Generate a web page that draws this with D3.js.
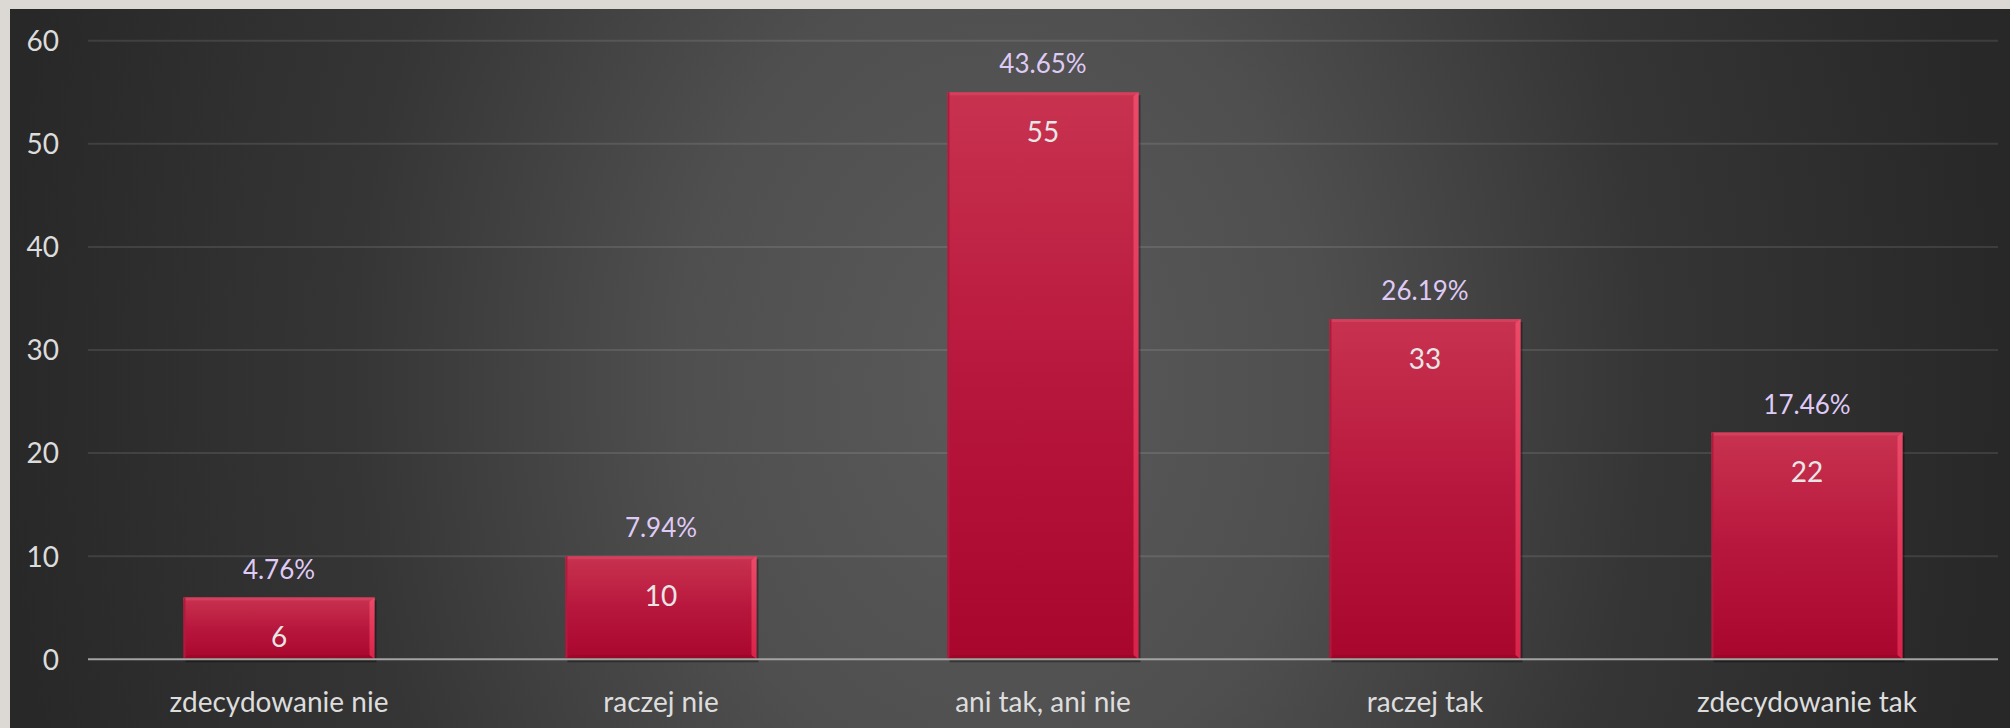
<!DOCTYPE html>
<html>
<head>
<meta charset="utf-8">
<script src="https://cdn.jsdelivr.net/npm/d3@7"></script>
<style>
  html, body { margin: 0; padding: 0; background: #dcd9d4; }
  svg { display: block; }
  text { font-family: Lato, "Open Sans", sans-serif; }
</style>
</head>
<body>
<div id="chart"></div>
<script>
var categories = ["zdecydowanie nie", "raczej nie", "ani tak, ani nie", "raczej tak", "zdecydowanie tak"];
var counts = [6, 10, 55, 33, 22];
var percentLabels = ["4.76%", "7.94%", "43.65%", "26.19%", "17.46%"];
var yTicks = [0, 10, 20, 30, 40, 50, 60];

var width = 2010;
var height = 728;
var panelLeft = 10;
var panelTop = 9;
var plotLeft = 88;
var plotRight = 1998;
var plotTop = 40.7;
var plotBottom = 659.3;

var svg = d3.select("#chart")
  .append("svg")
  .attr("width", width)
  .attr("height", height);

var defs = svg.append("defs");

var bg = defs.append("radialGradient")
  .attr("id", "bgGrad")
  .attr("gradientUnits", "userSpaceOnUse")
  .attr("cx", 1000)
  .attr("cy", 380)
  .attr("r", 1000)
  .attr("gradientTransform", "translate(1000,380) scale(1,1.3) translate(-1000,-380)");
bg.append("stop").attr("offset", 0).attr("stop-color", "#5a5a5a");
bg.append("stop").attr("offset", 0.32).attr("stop-color", "#4f4f4f");
bg.append("stop").attr("offset", 0.65).attr("stop-color", "#353535");
bg.append("stop").attr("offset", 1).attr("stop-color", "#282828");

var barGrad = defs.append("linearGradient")
  .attr("id", "barGrad")
  .attr("x1", 0).attr("y1", 0).attr("x2", 0).attr("y2", 1);
barGrad.append("stop").attr("offset", 0).attr("stop-color", "#c8324f");
barGrad.append("stop").attr("offset", 0.5).attr("stop-color", "#b8173d");
barGrad.append("stop").attr("offset", 1).attr("stop-color", "#a9062d");

var edgeGrad = defs.append("linearGradient")
  .attr("id", "edgeGrad")
  .attr("x1", 0).attr("y1", 0).attr("x2", 0).attr("y2", 1);
edgeGrad.append("stop").attr("offset", 0).attr("stop-color", "#ec4a68");
edgeGrad.append("stop").attr("offset", 1).attr("stop-color", "#d8234a");

// panel
svg.append("rect")
  .attr("x", panelLeft)
  .attr("y", panelTop)
  .attr("width", width - panelLeft)
  .attr("height", height - panelTop)
  .attr("fill", "url(#bgGrad)");

var xScale = d3.scaleBand()
  .domain(categories)
  .range([plotLeft, plotRight])
  .padding(0);

var yScale = d3.scaleLinear()
  .domain([0, 60])
  .range([plotBottom, plotTop]);

// gridlines
svg.append("g")
  .selectAll("line")
  .data(yTicks.filter(function(d) { return d > 0; }))
  .enter()
  .append("line")
  .attr("x1", plotLeft)
  .attr("x2", plotRight)
  .attr("y1", function(d) { return yScale(d); })
  .attr("y2", function(d) { return yScale(d); })
  .attr("stroke", "rgba(255,255,255,0.1)")
  .attr("stroke-width", 2);

// y axis labels
var yAxis = d3.axisLeft(yScale).tickValues(yTicks).tickSize(0).tickPadding(0);
var yG = svg.append("g")
  .attr("transform", "translate(59,0)")
  .call(yAxis);
yG.select(".domain").remove();
yG.selectAll("text")
  .attr("fill", "#dcdcdc")
  .attr("font-size", 28)
  .attr("dy", "0.35em")
  .style("font-family", "Lato, 'Open Sans', sans-serif");

var barW = xScale.bandwidth() * 0.5;

var bars = svg.append("g")
  .selectAll("g")
  .data(counts)
  .enter()
  .append("g")
  .attr("transform", function(d, i) {
    return "translate(" + (xScale(categories[i]) + xScale.bandwidth() / 2 - barW / 2) + ",0)";
  });

// shadow
bars.append("rect")
  .attr("x", 2)
  .attr("y", function(d) { return yScale(d) + 3; })
  .attr("width", barW)
  .attr("height", function(d) { return plotBottom - yScale(d); })
  .attr("fill", "rgba(0,0,0,0.35)");

bars.append("rect")
  .attr("y", function(d) { return yScale(d); })
  .attr("width", barW)
  .attr("height", function(d) { return plotBottom - yScale(d); })
  .attr("fill", "url(#barGrad)");

// top highlight
bars.append("rect")
  .attr("y", function(d) { return yScale(d); })
  .attr("width", barW)
  .attr("height", 3)
  .attr("fill", "#d2405e");

// right bevel
bars.append("path")
  .attr("d", function(d) {
    var t = yScale(d);
    return "M" + (barW - 5) + "," + (t + 4) + "L" + barW + "," + t + "L" + barW + "," + plotBottom +
      "L" + (barW - 5) + "," + (plotBottom - 4) + "Z";
  })
  .attr("fill", "url(#edgeGrad)");

// left edge
bars.append("rect")
  .attr("y", function(d) { return yScale(d); })
  .attr("width", 2)
  .attr("height", function(d) { return plotBottom - yScale(d); })
  .attr("fill", "#b11a3c");

// bottom bevel
bars.append("path")
  .attr("d", "M0," + plotBottom + "L" + barW + "," + plotBottom + "L" + (barW - 5) + "," + (plotBottom - 4) +
    "L4," + (plotBottom - 4) + "Z")
  .attr("fill", "#990826");

// value labels
bars.append("text")
  .attr("x", barW / 2)
  .attr("y", function(d) { return yScale(d) + 40; })
  .attr("dy", "0.35em")
  .attr("text-anchor", "middle")
  .attr("font-size", 28)
  .attr("fill", "#e6e6e6")
  .text(function(d) { return d; });

// percent labels
bars.append("text")
  .attr("x", barW / 2)
  .attr("y", function(d) { return yScale(d) - 28; })
  .attr("dy", "0.35em")
  .attr("text-anchor", "middle")
  .attr("font-size", 26)
  .attr("fill", "#dfcaf5")
  .text(function(d, i) { return percentLabels[i]; });

// zero axis line
svg.append("line")
  .attr("x1", plotLeft)
  .attr("x2", plotRight)
  .attr("y1", yScale(0))
  .attr("y2", yScale(0))
  .attr("stroke", "#a3a3a3")
  .attr("stroke-width", 2);

// category labels
var xAxis = d3.axisBottom(xScale).tickSize(0).tickPadding(0);
var xG = svg.append("g")
  .attr("transform", "translate(0,702)")
  .call(xAxis);
xG.select(".domain").remove();
xG.selectAll("text")
  .attr("fill", "#dddddd")
  .attr("font-size", 28)
  .attr("dy", "0.35em")
  .style("font-family", "Lato, 'Open Sans', sans-serif");
</script>
</body>
</html>
